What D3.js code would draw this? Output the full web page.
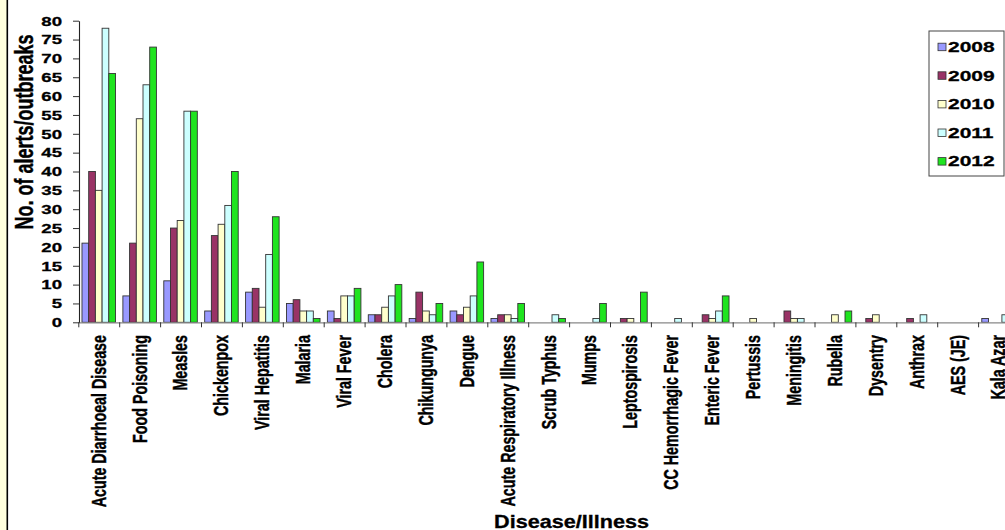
<!DOCTYPE html>
<html>
<head>
<meta charset="utf-8">
<script src="https://cdn.jsdelivr.net/npm/d3@7/dist/d3.min.js"></script>
<style>
  html, body { margin: 0; padding: 0; background: #fff; overflow: hidden; }
  svg { display: block; font-family: "Liberation Sans", Arial, sans-serif; }
</style>
</head>
<body>
<svg id="chart" width="1005" height="530"></svg>
<script>
const categories = ["Acute Diarrhoeal Disease","Food Poisoning","Measles","Chickenpox","Viral Hepatitis","Malaria","Viral Fever","Cholera","Chikungunya","Dengue","Acute Respiratory Illness","Scrub Typhus","Mumps","Leptospirosis","CC Hemorrhagic Fever","Enteric Fever","Pertussis","Meningitis","Rubella","Dysentry","Anthrax","AES (JE)","Kala Azar"];
const years = ["2008","2009","2010","2011","2012"];
const v2008 = [21,7,11,3,8,5,3,2,1,3,1,0,0,0,0,0,0,0,0,0,0,0,1];
const v2009 = [40,21,25,23,9,6,1,2,8,2,2,0,0,1,0,2,0,3,0,1,1,0,0];
const v2010 = [35,54,27,26,4,3,7,4,3,4,2,0,0,1,0,1,1,1,2,2,0,0,0];
const v2011 = [78,63,56,31,18,3,7,7,2,7,1,2,1,0,1,3,0,1,0,0,2,0,2];
const v2012 = [66,73,56,40,28,1,9,10,5,16,5,1,5,8,0,7,0,0,3,0,0,0,0];
const yTicks = d3.range(0, 81, 5);
const colors = ["#9999FF","#993366","#FFFFCC","#CCFFFF","#1FE41F"];
const seriesValues = [v2008, v2009, v2010, v2011, v2012];
const yTitle = "No. of alerts/outbreaks";
const xTitle = "Disease/Illness";

const svg = d3.select("#chart");
const SX = 1.38; // horizontal stretch of text

// left strip
svg.append("rect").attr("x",0).attr("y",0).attr("width",7).attr("height",530).attr("fill","#FFFFDD");
svg.append("line").attr("x1",7.3).attr("x2",7.3).attr("y1",0).attr("y2",530).attr("stroke","#000").attr("stroke-width",1.6);

const x0 = 78.3, step = 40.9;
const xr = [x0, x0 + categories.length * step];
const x = d3.scaleBand().domain(categories).range(xr).paddingInner(0.18).paddingOuter(0.09);
const xs = d3.scaleBand().domain(years).range([0, x.bandwidth()]).padding(0);
const y = d3.scaleLinear().domain([0, 80]).range([322.3, 20.7]);
const xb = d3.scaleLinear().domain([0, categories.length]).range(xr);

// bars
const series = years.map((yr, k) => ({year: yr, color: colors[k], values: seriesValues[k]}));
series.forEach(s => {
  svg.append("g").selectAll("rect")
    .data(s.values.map((v, i) => ({cat: categories[i], v})).filter(d => d.v > 0))
    .join("rect")
    .attr("x", d => x(d.cat) + xs(s.year))
    .attr("y", d => y(d.v))
    .attr("width", xs.bandwidth())
    .attr("height", d => y(0) - y(d.v))
    .attr("fill", s.color)
    .attr("stroke", "#333")
    .attr("stroke-width", 0.9);
});

// x axis
const gx = svg.append("g").attr("transform", `translate(0,${y(0)})`)
  .call(d3.axisBottom(xb).tickValues(d3.range(categories.length + 1)).tickFormat("").tickSize(5).tickSizeOuter(0));
gx.select(".domain").attr("stroke", "#888").attr("stroke-width", 1.2);
gx.selectAll(".tick line").attr("stroke", "#333");

// x labels
svg.append("g").selectAll("text").data(categories).join("text")
  .attr("transform", d => `translate(${x(d) + x.bandwidth()/2},335) scale(${SX},1) rotate(-90)`)
  .attr("dy", "0.35em")
  .attr("text-anchor", "end")
  .attr("font-size", "14.3px")
  .attr("font-weight", "bold")
  .attr("fill", "#000")
  .attr("stroke", "#000")
  .attr("stroke-width", 0.3)
  .text(d => d);

// y axis
const gy = svg.append("g").attr("transform", "translate(79,0)")
  .call(d3.axisLeft(y).tickValues(yTicks).tickSize(6).tickSizeOuter(0));
gy.select(".domain").attr("stroke", "#222").attr("stroke-width", 1.1);
gy.selectAll(".tick line").attr("stroke", "#333");
gy.selectAll(".tick text")
  .attr("x", -17 / SX)
  .attr("transform", `scale(${SX},1)`)
  .attr("font-size", "13.5px")
  .attr("font-weight", "bold")
  .attr("font-family", "Liberation Sans, Arial, sans-serif")
  .attr("fill", "#000")
  .attr("stroke", "#000")
  .attr("stroke-width", 0.3);

// y title
svg.append("text")
  .attr("transform", `translate(24,132) scale(${SX},1) rotate(-90)`)
  .attr("dy", "0.35em")
  .attr("text-anchor", "middle")
  .attr("font-size", "18px")
  .attr("font-weight", "bold")
  .attr("stroke", "#000")
  .attr("stroke-width", 0.3)
  .text(yTitle);

// x title
svg.append("text")
  .attr("transform", "translate(571.5,527.5) scale(1.2,1)")
  .attr("text-anchor", "middle")
  .attr("font-size", "18px")
  .attr("font-weight", "bold")
  .attr("stroke", "#000")
  .attr("stroke-width", 0.3)
  .text(xTitle);

// legend
const lg = svg.append("g");
lg.append("rect").attr("x", 929).attr("y", 31).attr("width", 75).attr("height", 145)
  .attr("fill", "#fff").attr("stroke", "#444").attr("stroke-width", 1);
series.forEach((s, i) => {
  const cy = 46.7 + i * 28.6;
  lg.append("rect").attr("x", 938).attr("y", cy - 3.5).attr("width", 8).attr("height", 7.5)
    .attr("fill", s.color).attr("stroke", "#333").attr("stroke-width", 0.8);
  lg.append("text").attr("transform", `translate(948,${cy + 5.3}) scale(1.4,1)`)
    .attr("font-size", "15px").attr("font-weight", "bold")
    .attr("stroke", "#000").attr("stroke-width", 0.3)
    .text(s.year);
});
</script>
</body>
</html>
